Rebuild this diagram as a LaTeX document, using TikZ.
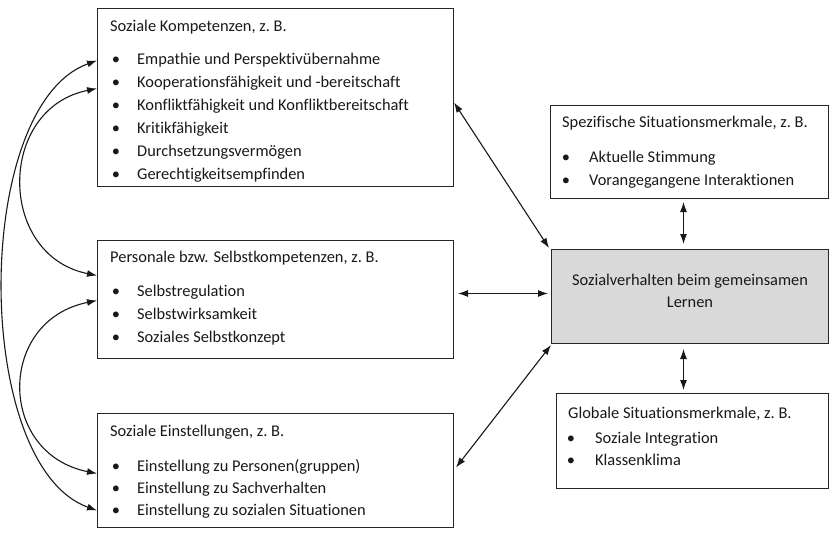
\documentclass[tikz,border=0pt]{standalone}
\usepackage{fontspec}
\setmainfont{Carlito}[Ligatures=NoCommon]
\usetikzlibrary{arrows.meta}
\begin{document}
\begin{tikzpicture}[x=1pt,y=-1pt,
  box/.style={draw=black!85, line width=1pt, inner sep=0pt, anchor=north west},
  txt/.style={anchor=base west, inner sep=0pt, font=\fontsize{16.4}{19}\selectfont, text=black!90},
  bul/.style={anchor=base, inner sep=0pt, font=\fontsize{16.4}{19}\selectfont, text=black!90},
  ctr/.style={anchor=base, inner sep=0pt, font=\fontsize{16.4}{19}\selectfont, text=black!90},
  arr/.style={{Latex[length=10pt,width=7pt]}-{Latex[length=10pt,width=7pt]}, line width=1.1pt, black!90}]
\useasboundingbox (0,0) rectangle (829,533);
\fill[white] (0,0) rectangle (829,533);

% boxes
\node[box, minimum width=356pt, minimum height=178pt] (A) at (97,8) {};
\node[box, minimum width=356pt, minimum height=118pt] (B) at (97,240) {};
\node[box, minimum width=356pt, minimum height=114pt] (C) at (97,413) {};
\node[box, minimum width=278pt, minimum height=93pt] (D) at (550,105) {};
\node[box, fill=black!15, minimum width=277pt, minimum height=94pt] (E) at (551,249) {};
\node[box, minimum width=272pt, minimum height=95pt] (F) at (556,393) {};

% box A text
\node[txt] (a0) at (110,31) {Soziale Kompetenzen, z.\ B.};
\foreach \y/\t [count=\i] in {64/Empathie und Perspektivübernahme,
  87/Kooperationsfähigkeit und -bereitschaft,
  110/Konfliktfähigkeit und Konfliktbereitschaft,
  133/Kritikfähigkeit,
  156/Durchsetzungsvermögen,
  179/Gerechtigkeitsempfinden}{
  \node[bul] (ab\i) at (116,\y) {\textbullet};
  \node[txt] (at\i) at (137,\y) {\t};
}

% box B text
\node[txt] (b0) at (110,262) {Personale bzw. Selbstkompetenzen, z.\ B.};
\foreach \y/\t [count=\i] in {296/Selbstregulation,
  319/Selbstwirksamkeit,
  342/Soziales Selbstkonzept}{
  \node[bul] (bb\i) at (116,\y) {\textbullet};
  \node[txt] (bt\i) at (137,\y) {\t};
}

% box C text
\node[txt] (c0) at (110,436) {Soziale Einstellungen, z.\ B.};
\foreach \y/\t [count=\i] in {471/Einstellung zu Personen(gruppen),
  493/Einstellung zu Sachverhalten,
  515/Einstellung zu sozialen Situationen}{
  \node[bul] (cb\i) at (116,\y) {\textbullet};
  \node[txt] (ct\i) at (137,\y) {\t};
}

% box D text
\node[txt] (d0) at (562,127) {Spezifische Situationsmerkmale, z.\ B.};
\foreach \y/\t [count=\i] in {162/Aktuelle Stimmung,
  185/Vorangegangene Interaktionen}{
  \node[bul] (db\i) at (566,\y) {\textbullet};
  \node[txt] (dt\i) at (589,\y) {\t};
}

% box E text
\node[ctr] (e1) at (690,285) {Sozialverhalten beim gemeinsamen};
\node[ctr] (e2) at (690,307) {Lernen};

% box F text
\node[txt] (f0) at (568,418) {Globale Situationsmerkmale, z.\ B.};
\foreach \y/\t [count=\i] in {443/Soziale Integration,
  465/Klassenklima}{
  \node[bul] (fb\i) at (571,\y) {\textbullet};
  \node[txt] (ft\i) at (595,\y) {\t};
}

% connectors to central box
\draw[arr] ([yshift=-5pt]A.east) -- ([xshift=-2pt,yshift=1pt]E.north west);
\draw[arr] ([xshift=4pt,yshift=6pt]B.east) -- ([xshift=-3pt,yshift=3pt]E.west);
\draw[arr] ([xshift=2pt,yshift=3pt]C.east) -- ([yshift=-1pt]E.south west);
\draw[arr] ([xshift=-6pt,yshift=-3pt]D.south) -- ([xshift=-6.5pt,yshift=5pt]E.north);
\draw[arr] ([xshift=-6.5pt,yshift=-5pt]E.south) -- ([xshift=-9pt,yshift=3pt]F.north);

% left arcs
\draw[arr] ([yshift=37pt]A.west) .. controls +(-125,45) and +(-125,-45) .. ([yshift=-40pt]C.west);
\draw[arr] ([yshift=9pt]A.west) .. controls +(-100,20) and +(-100,-20) .. ([yshift=24pt]B.west);
\draw[arr] ([yshift=-1pt]B.west) .. controls +(-100,20) and +(-100,-20) .. ([yshift=-3pt]C.west);
\end{tikzpicture}
\end{document}
